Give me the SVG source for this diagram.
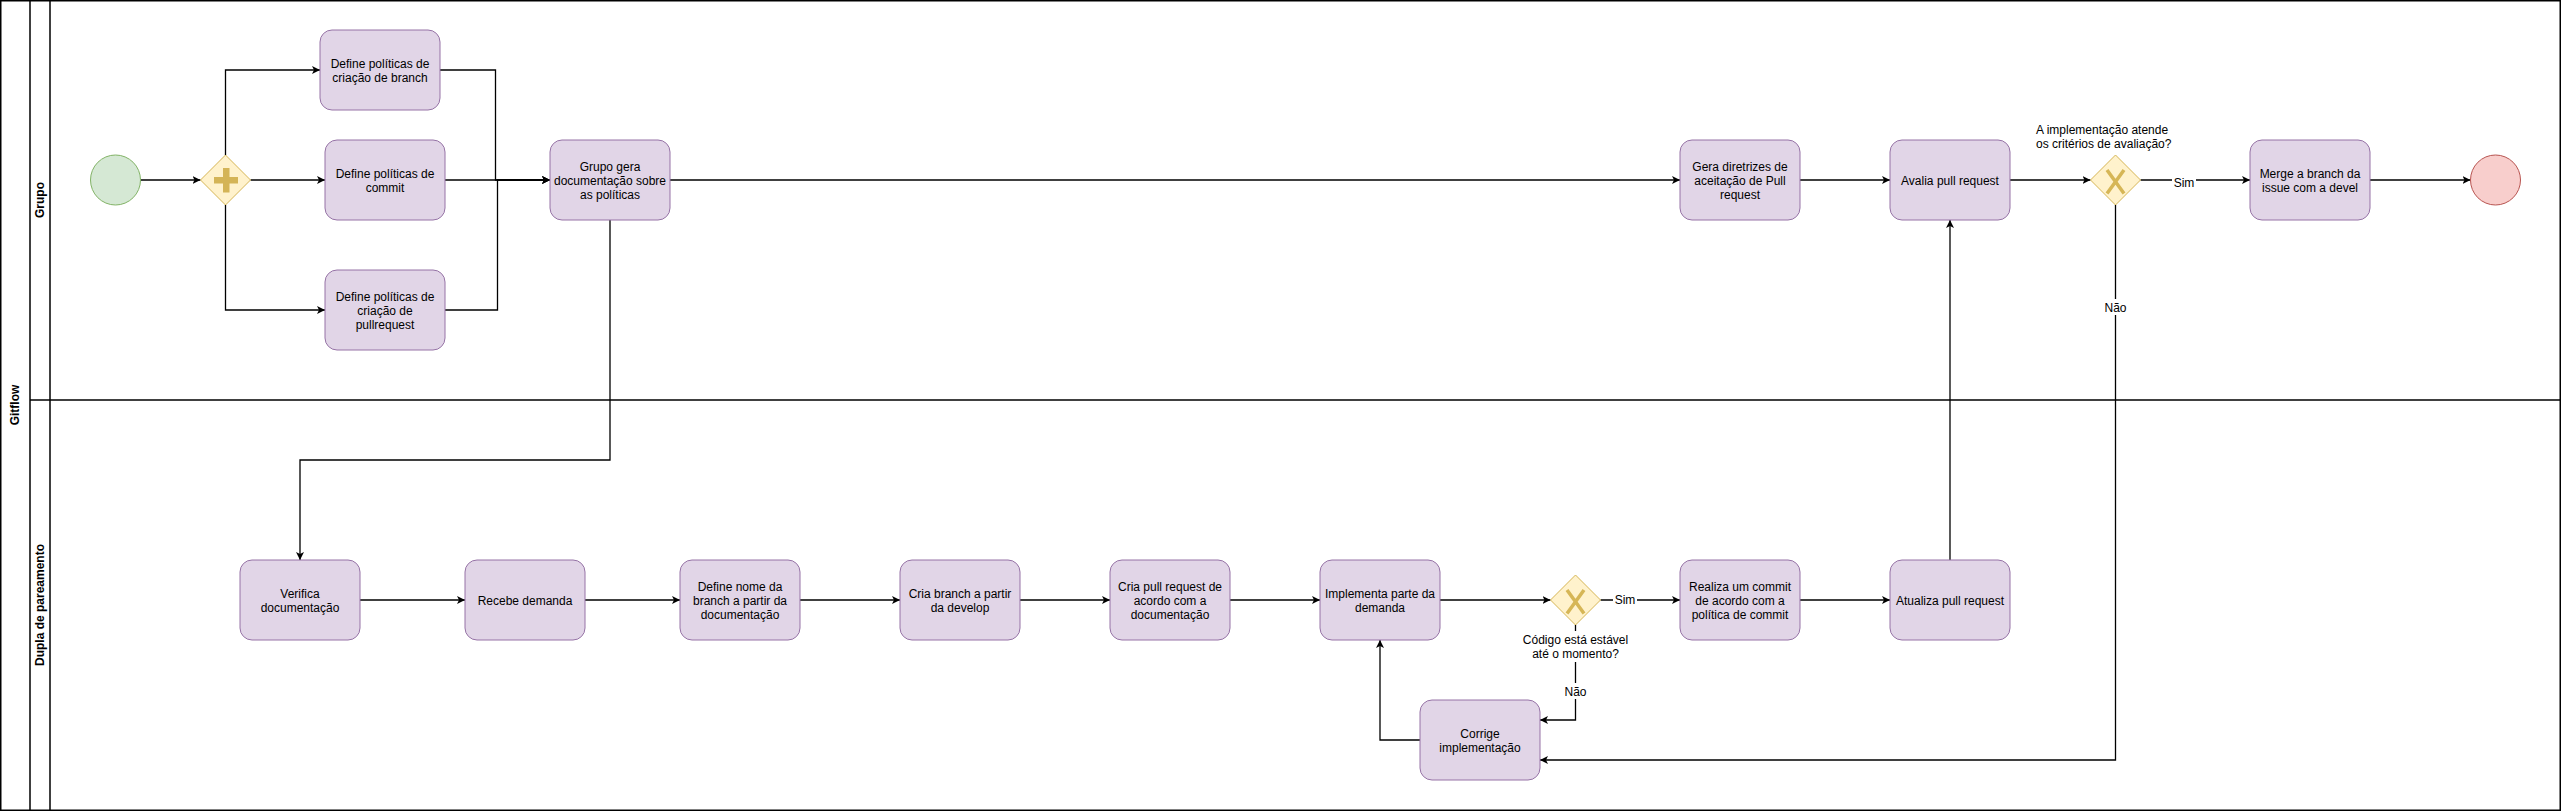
<svg xmlns="http://www.w3.org/2000/svg" width="2561" height="811" viewBox="0 0 2561 811">
<defs>
<style>
.task{fill:#e1d5e7;stroke:#9673a6;stroke-width:1}
.gw{fill:#fff2cc;stroke:#d6b656;stroke-width:1}
.t{font-family:"Liberation Sans",Arial,Helvetica,sans-serif;font-size:12px;fill:#000;text-anchor:middle}
.b{font-weight:bold}
.e{fill:none;stroke:#000;stroke-width:1.3}
.ea{fill:none;stroke:#000;stroke-width:1.3;marker-end:url(#arr)}
.lbg{fill:#fff;stroke:none}
.pool{fill:none;stroke:#000;stroke-width:1.5}
</style>
<marker id="arr" markerWidth="10" markerHeight="10" refX="8" refY="4" orient="auto" markerUnits="userSpaceOnUse">
<path d="M0,0 L8,4 L0,8 L2,4 Z" fill="#000"/>
</marker>
</defs>
<rect x="0" y="0" width="2561" height="811" fill="#fff"/>

<g id="pool">
<rect class="pool" x="0.75" y="0.75" width="2559.5" height="809.5"/>
<line class="pool" x1="30" y1="0" x2="30" y2="810"/>
<line class="pool" x1="50" y1="0" x2="50" y2="810"/>
<line class="pool" x1="30" y1="400" x2="2560" y2="400"/>
<text class="t b" transform="translate(19.3,405) rotate(-90)">Gitflow</text>
<text class="t b" transform="translate(44.3,200) rotate(-90)">Grupo</text>
<text class="t b" transform="translate(44.3,605) rotate(-90)">Dupla de pareamento</text>
</g>

<g id="connectors">
<path class="ea" d="M140.5,180 H200.5"/>
<path class="ea" d="M225.5,155 V70 H320"/>
<path class="ea" d="M250.5,180 H325"/>
<path class="ea" d="M225.5,205 V310 H325"/>
<path class="ea" d="M440,70 H495.5 V180 H550"/>
<path class="ea" d="M445,180 H550"/>
<path class="ea" d="M445,310 H497.5 V180 H550"/>
<path class="ea" d="M670,180 H1680"/>
<path class="ea" d="M610,220 V460 H300 V560"/>
<path class="ea" d="M1800,180 H1890"/>
<path class="ea" d="M2010,180 H2090.5"/>
<path class="ea" d="M2140.5,180 H2250"/>
<path class="ea" d="M2370,180 H2470.5"/>
<path class="ea" d="M2115.5,205 V760 H1540"/>
<path class="ea" d="M360,600 H465"/>
<path class="ea" d="M585,600 H680"/>
<path class="ea" d="M800,600 H900"/>
<path class="ea" d="M1020,600 H1110"/>
<path class="ea" d="M1230,600 H1320"/>
<path class="ea" d="M1440,600 H1550.5"/>
<path class="ea" d="M1600.5,600 H1680"/>
<path class="ea" d="M1800,600 H1890"/>
<path class="ea" d="M1950,560 V220"/>
<path class="ea" d="M1575.5,625 V720 H1540"/>
<path class="ea" d="M1420,740 H1380 V640"/>
<rect class="lbg" x="2172" y="176" width="24" height="14"/>
<text class="t" x="2184" y="187">Sim</text>
<rect class="lbg" x="2103" y="299" width="25" height="16"/>
<text class="t" x="2115.5" y="311.5">Não</text>
<rect class="lbg" x="1613" y="593" width="24" height="14"/>
<text class="t" x="1625" y="604">Sim</text>
<rect class="lbg" x="1563" y="683" width="25" height="16"/>
<text class="t" x="1575.5" y="695.5">Não</text>
</g>

<g id="start">
<circle cx="115.5" cy="180" r="25" fill="#d5e8d4" stroke="#82b366" stroke-width="1"/>
</g>

<g id="gw_parallel">
<polygon class="gw" points="225.5,155 250.5,180 225.5,205 200.5,180"/>
<rect x="214" y="177" width="24" height="6.5" fill="#d4b456"/>
<rect x="223" y="168" width="6.5" height="24.5" fill="#d4b456"/>
</g>

<g id="n_branch">
<rect class="task" x="320" y="30" width="120" height="80" rx="12"/>
<text class="t" x="380" y="67.7">Define políticas de</text>
<text class="t" x="380" y="82.1">criação de branch</text>
</g>

<g id="n_commit">
<rect class="task" x="325" y="140" width="120" height="80" rx="12"/>
<text class="t" x="385" y="177.7">Define políticas de</text>
<text class="t" x="385" y="192.1">commit</text>
</g>

<g id="n_pullreq">
<rect class="task" x="325" y="270" width="120" height="80" rx="12"/>
<text class="t" x="385" y="300.5">Define políticas de</text>
<text class="t" x="385" y="314.9">criação de</text>
<text class="t" x="385" y="329.3">pullrequest</text>
</g>

<g id="n_docs">
<rect class="task" x="550" y="140" width="120" height="80" rx="12"/>
<text class="t" x="610" y="170.5">Grupo gera</text>
<text class="t" x="610" y="184.9">documentação sobre</text>
<text class="t" x="610" y="199.3">as políticas</text>
</g>

<g id="n_diretrizes">
<rect class="task" x="1680" y="140" width="120" height="80" rx="12"/>
<text class="t" x="1740" y="170.5">Gera diretrizes de</text>
<text class="t" x="1740" y="184.9">aceitação de Pull</text>
<text class="t" x="1740" y="199.3">request</text>
</g>

<g id="n_avalia">
<rect class="task" x="1890" y="140" width="120" height="80" rx="12"/>
<text class="t" x="1950" y="184.9">Avalia pull request</text>
</g>

<g id="gw_avaliacao">
<polygon class="gw" points="2115.5,155 2140.5,180 2115.5,205 2090.5,180"/>
<path d="M2107,170 L2124,193.5 M2124,170 L2107,193.5" stroke="#d6b656" stroke-width="3.5" fill="none"/>
<text class="t" x="2036" y="133.5" style="text-anchor:start">A implementação atende</text>
<text class="t" x="2036" y="147.5" style="text-anchor:start">os critérios de avaliação?</text>
</g>

<g id="n_merge">
<rect class="task" x="2250" y="140" width="120" height="80" rx="12"/>
<text class="t" x="2310" y="177.7">Merge a branch da</text>
<text class="t" x="2310" y="192.1">issue com a devel</text>
</g>

<g id="end">
<circle cx="2495.5" cy="180" r="25" fill="#f8cecc" stroke="#b85450" stroke-width="1"/>
</g>

<g id="n_verifica">
<rect class="task" x="240" y="560" width="120" height="80" rx="12"/>
<text class="t" x="300" y="597.7">Verifica</text>
<text class="t" x="300" y="612.1">documentação</text>
</g>

<g id="n_recebe">
<rect class="task" x="465" y="560" width="120" height="80" rx="12"/>
<text class="t" x="525" y="604.9">Recebe demanda</text>
</g>

<g id="n_nome">
<rect class="task" x="680" y="560" width="120" height="80" rx="12"/>
<text class="t" x="740" y="590.5">Define nome da</text>
<text class="t" x="740" y="604.9">branch a partir da</text>
<text class="t" x="740" y="619.3">documentação</text>
</g>

<g id="n_cria_branch">
<rect class="task" x="900" y="560" width="120" height="80" rx="12"/>
<text class="t" x="960" y="597.7">Cria branch a partir</text>
<text class="t" x="960" y="612.1">da develop</text>
</g>

<g id="n_cria_pr">
<rect class="task" x="1110" y="560" width="120" height="80" rx="12"/>
<text class="t" x="1170" y="590.5">Cria pull request de</text>
<text class="t" x="1170" y="604.9">acordo com a</text>
<text class="t" x="1170" y="619.3">documentação</text>
</g>

<g id="n_implementa">
<rect class="task" x="1320" y="560" width="120" height="80" rx="12"/>
<text class="t" x="1380" y="597.7">Implementa parte da</text>
<text class="t" x="1380" y="612.1">demanda</text>
</g>

<g id="gw_estavel">
<polygon class="gw" points="1575.5,575 1600.5,600 1575.5,625 1550.5,600"/>
<path d="M1567,590 L1584,613.5 M1584,590 L1567,613.5" stroke="#d6b656" stroke-width="3.5" fill="none"/>
<rect class="lbg" x="1518" y="631" width="115" height="31"/>
<text class="t" x="1575.5" y="643.5">Código está estável</text>
<text class="t" x="1575.5" y="657.5">até o momento?</text>
</g>

<g id="n_realiza">
<rect class="task" x="1680" y="560" width="120" height="80" rx="12"/>
<text class="t" x="1740" y="590.5">Realiza um commit</text>
<text class="t" x="1740" y="604.9">de acordo com a</text>
<text class="t" x="1740" y="619.3">política de commit</text>
</g>

<g id="n_atualiza">
<rect class="task" x="1890" y="560" width="120" height="80" rx="12"/>
<text class="t" x="1950" y="604.9">Atualiza pull request</text>
</g>

<g id="n_corrige">
<rect class="task" x="1420" y="700" width="120" height="80" rx="12"/>
<text class="t" x="1480" y="737.7">Corrige</text>
<text class="t" x="1480" y="752.1">implementação</text>
</g>
</svg>
